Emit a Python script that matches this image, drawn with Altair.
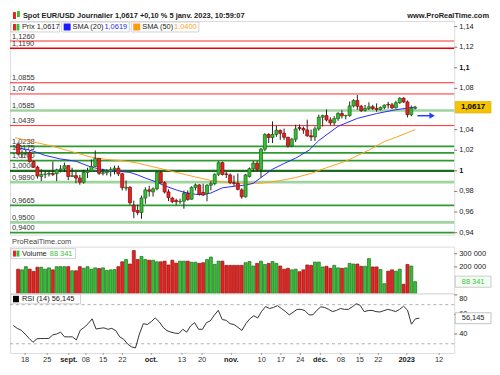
import altair as alt
import numpy as np
import pandas as pd

FONT = "Liberation Sans"

# ---------------- data ----------------
opens = [1.0257, 1.0163, 1.0172, 1.0177, 1.0090, 1.0036, 0.9945, 0.9966, 0.9968, 0.9974,
         0.9972, 1.0008, 1.0018, 1.0050, 0.9945, 0.9953, 0.9930, 0.9890, 0.9985, 0.9998,
         1.0042, 1.0120, 0.9976, 0.9980, 0.9995, 1.0012, 1.0025, 0.9971, 0.9832, 0.9840,
         0.9665, 0.9615, 0.9595, 0.9736, 0.9815, 0.9795, 0.9825, 0.9985, 0.9884, 0.9795,
         0.9735, 0.9712, 0.9700, 0.9705, 0.9780, 0.9725, 0.9839, 0.9863, 0.9790, 0.9780,
         0.9860, 0.9876, 0.9966, 1.0079, 0.9970, 0.9960, 0.9885, 0.9878, 0.9815, 0.9748,
         0.9945, 1.0020, 1.0075, 1.0014, 1.0210, 1.0352, 1.0323, 1.0353, 1.0393, 1.0365,
         1.0325, 1.0242, 1.0306, 1.0420, 1.0411, 1.0397, 1.0340, 1.0329, 1.0407, 1.0521,
         1.0536, 1.0494, 1.0466, 1.0507, 1.0556, 1.0534, 1.0537, 1.0630, 1.0682, 1.0627,
         1.0585, 1.0605, 1.0622, 1.0605, 1.0596, 1.0615, 1.0645, 1.0640, 1.0611, 1.0661,
         1.0705, 1.0668, 1.0545, 1.0607]
highs = [1.0275, 1.0200, 1.0202, 1.0195, 1.0100, 1.0050, 1.0015, 0.9999, 1.0000, 1.0090,
         1.0020, 1.0055, 1.0080, 1.0055, 1.0030, 0.9990, 0.9960, 1.0010, 1.0030, 1.0110,
         1.0198, 1.0125, 1.0020, 1.0015, 1.0035, 1.0050, 1.0050, 0.9980, 0.9906, 0.9850,
         0.9710, 0.9670, 0.9760, 0.9840, 0.9855, 0.9840, 0.9999, 0.9999, 0.9900, 0.9820,
         0.9748, 0.9730, 0.9730, 0.9808, 0.9810, 0.9850, 0.9876, 0.9870, 0.9875, 0.9870,
         0.9900, 0.9975, 1.0093, 1.0089, 0.9990, 0.9975, 0.9954, 0.9975, 0.9830, 0.9970,
         1.0033, 1.0095, 1.0095, 1.0222, 1.0365, 1.0365, 1.0480, 1.0440, 1.0400, 1.0410,
         1.0330, 1.0320, 1.0448, 1.0450, 1.0430, 1.0497, 1.0400, 1.0430, 1.0545, 1.0545,
         1.0595, 1.0520, 1.0530, 1.0570, 1.0588, 1.0545, 1.0673, 1.0695, 1.0736, 1.0640,
         1.0640, 1.0665, 1.0640, 1.0655, 1.0625, 1.0645, 1.0670, 1.0660, 1.0680, 1.0714,
         1.0713, 1.0683, 1.0633, 1.0630]
lows = [1.0150, 1.0122, 1.0150, 1.0080, 1.0030, 0.9925, 0.9900, 0.9928, 0.9945, 0.9950,
        0.9900, 0.9985, 0.9990, 0.9910, 0.9940, 0.9880, 0.9865, 0.9875, 0.9930, 0.9990,
        1.0040, 0.9960, 0.9955, 0.9955, 0.9945, 0.9965, 0.9950, 0.9810, 0.9807, 0.9670,
        0.9540, 0.9570, 0.9535, 0.9680, 0.9750, 0.9750, 0.9810, 0.9875, 0.9780, 0.9705,
        0.9685, 0.9670, 0.9680, 0.9632, 0.9710, 0.9720, 0.9810, 0.9760, 0.9760, 0.9705,
        0.9810, 0.9860, 0.9950, 0.9955, 0.9930, 0.9870, 0.9850, 0.9810, 0.9730, 0.9740,
        0.9935, 0.9995, 1.0000, 0.9935, 1.0190, 1.0270, 1.0270, 1.0330, 1.0300, 1.0300,
        1.0225, 1.0230, 1.0280, 1.0390, 1.0360, 1.0330, 1.0290, 1.0290, 1.0390, 1.0430,
        1.0480, 1.0443, 1.0440, 1.0485, 1.0508, 1.0500, 1.0525, 1.0615, 1.0593, 1.0570,
        1.0575, 1.0590, 1.0590, 1.0573, 1.0585, 1.0598, 1.0605, 1.0600, 1.0605, 1.0650,
        1.0660, 1.0519, 1.0530, 1.0595]
closes = [1.0163, 1.0172, 1.0177, 1.0090, 1.0036, 0.9950, 0.9966, 0.9968, 0.9974, 0.9965,
          1.0008, 1.0018, 1.0050, 0.9945, 0.9953, 0.9930, 0.9890, 0.9985, 0.9998, 1.0042,
          1.0120, 0.9976, 0.9980, 0.9995, 1.0012, 1.0025, 0.9971, 0.9837, 0.9840, 0.9690,
          0.9607, 0.9595, 0.9736, 0.9815, 0.9802, 0.9825, 0.9985, 0.9884, 0.9795, 0.9741,
          0.9701, 0.9700, 0.9703, 0.9780, 0.9721, 0.9839, 0.9863, 0.9773, 0.9765, 0.9860,
          0.9876, 0.9966, 1.0079, 0.9965, 0.9965, 0.9885, 0.9878, 0.9820, 0.9748, 0.9960,
          1.0020, 1.0075, 1.0014, 1.0210, 1.0352, 1.0323, 1.0353, 1.0393, 1.0365, 1.0325,
          1.0242, 1.0306, 1.0406, 1.0411, 1.0397, 1.0340, 1.0329, 1.0407, 1.0521, 1.0536,
          1.0494, 1.0466, 1.0507, 1.0556, 1.0534, 1.0537, 1.0630, 1.0682, 1.0627, 1.0585,
          1.0605, 1.0622, 1.0605, 1.0596, 1.0615, 1.0637, 1.0640, 1.0611, 1.0661, 1.0705,
          1.0668, 1.0545, 1.0607, 1.0617]
volumes = [183000, 178000, 202000, 183000, 166000, 198000, 198000, 183000, 193000, 178000,
           202000, 202000, 202000, 202000, 171000, 171000, 202000, 190000, 202000, 183000,
           193000, 188000, 193000, 173000, 178000, 180000, 202000, 239000, 256000, 222000,
           324000, 256000, 280000, 256000, 251000, 251000, 239000, 239000, 244000, 215000,
           251000, 229000, 244000, 244000, 244000, 236000, 236000, 227000, 232000, 256000,
           275000, 220000, 244000, 244000, 212000, 212000, 212000, 212000, 212000, 232000,
           241000, 207000, 227000, 244000, 219000, 227000, 241000, 227000, 207000, 183000,
           190000, 178000, 183000, 164000, 178000, 215000, 212000, 237000, 237000, 200000,
           205000, 190000, 212000, 193000, 190000, 193000, 227000, 222000, 222000, 205000,
           205000, 263000, 200000, 200000, 181000, 73000, 168000, 178000, 168000, 183000,
           69000, 219000, 207000, 88341]
rsi_vals = [48.7, 45.8, 43.9, 40.0, 35.6, 31.5, 35.1, 35.4, 35.4, 35.4,
            39.0, 40.0, 41.9, 37.1, 37.1, 37.1, 33.9, 43.9, 46.8, 50.6,
            55.5, 45.1, 45.8, 46.3, 44.8, 45.8, 43.4, 37.1, 34.6, 29.7,
            26.9, 25.7, 40.0, 50.6, 49.7, 52.6, 56.4, 52.6, 46.8, 43.4,
            41.9, 40.9, 40.5, 44.8, 41.9, 48.4, 51.6, 44.8, 44.8, 51.6,
            53.5, 59.3, 64.2, 54.8, 54.0, 50.6, 49.7, 46.8, 43.6, 50.6,
            55.5, 58.7, 56.4, 63.2, 68.1, 66.1, 67.1, 69.0, 66.1, 63.2,
            59.6, 62.3, 65.2, 65.2, 63.9, 59.6, 59.6, 64.2, 67.8, 67.1,
            65.2, 62.9, 64.2, 66.1, 65.2, 65.2, 67.8, 71.0, 69.3, 62.9,
            63.9, 64.2, 62.9, 62.5, 63.9, 65.2, 64.2, 62.9, 65.2, 68.4,
            64.5, 50.0, 55.5, 56.145]

sma20_idx = [-0.8, 2, 4, 7, 11, 15, 19, 23, 26, 29, 31, 33, 36, 38, 41, 43, 46, 48, 50,
             53, 56, 59, 61, 63, 66, 69, 72, 75.5, 78, 83, 88, 93, 98, 103]
sma20_val = [1.0225, 1.0210, 1.0190, 1.0150, 1.0115, 1.0093, 1.0035, 1.0005, 0.9995, 0.9985,
             0.9960, 0.9930, 0.9889, 0.9855, 0.9815, 0.9792, 0.9772, 0.9768, 0.9785,
             0.9835, 0.9850, 0.9862, 0.9878, 0.9935, 1.0016, 1.0071, 1.0123, 1.0201, 1.0294,
             1.0432, 1.0509, 1.0556, 1.0593, 1.0619]
sma50_idx = [-0.8, 4, 9, 14, 19, 23, 27, 31, 36, 41, 46, 50, 54, 58, 63, 68, 72, 76, 80,
             85, 91, 95, 98, 103]
sma50_val = [1.0322, 1.0280, 1.0238, 1.0185, 1.0132, 1.0110, 1.0099, 1.0075, 1.0030, 0.9985,
             0.9940, 0.9907, 0.9888, 0.9880, 0.9880, 0.9905, 0.9935, 0.9975, 1.0030,
             1.0093, 1.0201, 1.0284, 1.0325, 1.0400]

levels = [1.1260, 1.1190, 1.0855, 1.0746, 1.0585, 1.0439, 1.0238, 1.0175, 1.0100,
          1.0000, 0.9890, 0.9665, 0.9500, 0.9400]
level_kinds = ["res", "res_major", "res", "res", "sup_light", "res", "sup", "sup", "sup",
               "sup_major", "sup_light", "sup", "sup_light", "sup"]

tick_text = ["18", "25", "sept.", "08", "15", "22", "oct.", "13", "20", "nov.",
             "10", "17", "24", "déc.", "08", "15", "22", "2023", "12"]
tick_pos = [3.0, 8.6, 14.1, 18.4, 22.8, 27.7, 35.0, 42.8, 47.9, 55.3,
            63.0, 67.9, 72.8, 77.9, 83.1, 87.9, 92.6, 99.8, 108.0]
tick_bold = [False, False, True, False, False, False, True, False, False, True,
             False, False, False, True, False, False, False, True, False]

price_ticks = [0.94, 0.96, 0.98, 1.0, 1.02, 1.04, 1.08, 1.1, 1.12, 1.14]
price_tick_labels = ["0,94", "0,96", "0,98", "1", "1,02", "1,04", "1,08", "1,1", "1,12", "1,14"]
price_tick_bold = [False, False, False, True, False, False, False, True, False, False]
vol_ticks = [200000, 300000]
rsi_ticks = [40, 60]
rsi_top_tick = 80
rsi_bands = [70, 30]

last_price = 1.0617
sma20_last = 1.0619
sma50_last = 1.0400
last_volume = 88341
last_rsi = 56.145
change_text = "+0,10 %"
date_text = "5 janv. 2023, 10:59:07"
arrow_from, arrow_to, arrow_price = 103.6, 107.4, 1.0535

# ---------------- layout / style ----------------
W = 447
H_HEAD, H_PRICE, H_STRIP, H_VOL, H_RSI = 12, 215, 12, 47, 60
FS = 7.5
UP_FILL, DN_FILL = "#36bf36", "#e8231f"
UP_EDGE, DN_EDGE = "#1d6f1d", "#8e1010"
VUP_FILL, VDN_FILL = "#45cf45", "#e06262"
VUP_EDGE, VDN_EDGE = "#1e8a1e", "#a32a2a"
BLUE, ORANGE = "#2a2aff", "#ffa020"
R_DOM = [20.6, 81.6]


def fr(v, d=4):
    return f"{v:.{d}f}".replace(".", ",")


df = pd.DataFrame({"i": np.arange(len(closes)), "open": opens, "high": highs,
                   "low": lows, "close": closes, "vol": volumes, "rsi": rsi_vals})
df["dir"] = np.where(df["close"] >= df["open"], "up", "down")
lv = pd.DataFrame({"p": levels, "kind": level_kinds})
lv["lab"] = [fr(v) for v in levels]
s20 = pd.DataFrame({"i": sma20_idx, "v": sma20_val})
s50 = pd.DataFrame({"i": sma50_idx, "v": sma50_val})
ticks = pd.DataFrame({"pos": tick_pos, "lab": tick_text, "bold": tick_bold})
pticks = pd.DataFrame({"v": price_ticks, "lab": price_tick_labels, "bold": price_tick_bold})
vticks = pd.DataFrame({"v": vol_ticks, "lab": [f"{v:,}".replace(",", " ") for v in vol_ticks]})
rticks = pd.DataFrame({"v": rsi_ticks, "lab": [str(v) for v in rsi_ticks]})
bands = pd.DataFrame({"v": rsi_bands})
ONE = pd.DataFrame({"k": [0]})

xs = alt.Scale(domain=[-0.83, 111.85], nice=False, zero=False)
ps = alt.Scale(domain=[0.938, 1.1454], nice=False, zero=False)
vsc = alt.Scale(domain=[0, 354000], nice=False, zero=False)
rsc = alt.Scale(domain=R_DOM, nice=False, zero=False)
X = alt.X("i:Q", scale=xs, axis=None)


def PY(field):
    return alt.Y(field, scale=ps, axis=None)


def RY(field):
    return alt.Y(field, scale=rsc, axis=None)


def prect(x0, x1, y0, y1, fill, stroke=None, sw=0.8):
    kw = dict(fill=fill)
    if stroke:
        kw.update(stroke=stroke, strokeWidth=sw)
    else:
        kw.update(strokeWidth=0)
    return alt.Chart(ONE).mark_rect(**kw).encode(
        x=alt.value(x0), x2=alt.value(x1), y=alt.value(y0), y2=alt.value(y1))


def ptext(x, y, txt, color="#222", weight="normal", align="left", size=FS):
    return alt.Chart(ONE).mark_text(text=txt, font=FONT, fontSize=size, color=color,
                                    fontWeight=weight, align=align, baseline="middle").encode(
        x=alt.value(x), y=alt.value(y))


def right_axis(tdf, scale, bold_col=False):
    """Right-hand axis drawn as small tick rules and labels."""
    tks = alt.Chart(tdf).mark_rule(color="#777", strokeWidth=1).encode(
        x=alt.value(W), x2=alt.value(W + 3), y=alt.Y("v:Q", scale=scale, axis=None))
    layers = [tks]
    if bold_col:
        layers.append(alt.Chart(tdf).transform_filter("!datum.bold").mark_text(
            font=FONT, fontSize=FS, color="#222", align="left", baseline="middle").encode(
            x=alt.value(W + 5), y=alt.Y("v:Q", scale=scale, axis=None), text="lab:N"))
        layers.append(alt.Chart(tdf).transform_filter("datum.bold").mark_text(
            font=FONT, fontSize=FS, color="#111", fontWeight="bold", align="left",
            baseline="middle").encode(
            x=alt.value(W + 5), y=alt.Y("v:Q", scale=scale, axis=None), text="lab:N"))
    else:
        layers.append(alt.Chart(tdf).mark_text(
            font=FONT, fontSize=FS, color="#222", align="left", baseline="middle").encode(
            x=alt.value(W + 5), y=alt.Y("v:Q", scale=scale, axis=None), text="lab:N"))
    return layers


# ---------------- header ----------------
header = alt.layer(
    prect(3, 6, 3, 10, DN_FILL),
    prect(7, 10, 2, 8, UP_FILL),
    ptext(13, 6.5, f"Spot EUR/USD Journalier {fr(last_price)} {change_text} {date_text}",
          weight="bold"),
    ptext(W + 35, 6.5, "www.ProRealTime.com", weight="bold", align="right"),
).properties(width=W, height=H_HEAD, view=alt.ViewBackground(strokeOpacity=0))

# ---------------- price panel ----------------
kind_dom = ["res", "res_major", "sup", "sup_major", "sup_light"]
lev_rules = alt.Chart(lv).mark_rule().encode(
    y=PY("p:Q"),
    color=alt.Color("kind:N", scale=alt.Scale(domain=kind_dom,
                    range=["#ff2a2a", "#ee0000", "#2f9a2f", "#1d6b1d", "#9fd39f"]), legend=None),
    strokeWidth=alt.StrokeWidth("kind:N", scale=alt.Scale(domain=kind_dom,
                                range=[1, 2.6, 1.2, 2.6, 2]), legend=None),
)
lev_labels = alt.Chart(lv).mark_text(font=FONT, fontSize=FS, color="#333", align="left",
                                     baseline="middle", dy=-4.5).encode(
    x=alt.value(2), y=PY("p:Q"), text="lab:N")
sma50_line = alt.Chart(s50).mark_line(color=ORANGE, strokeWidth=1, clip=True).encode(
    x=X, y=PY("v:Q"))
sma20_line = alt.Chart(s20).mark_line(color=BLUE, strokeWidth=1, clip=True).encode(
    x=X, y=PY("v:Q"))
wicks = alt.Chart(df).mark_rule(color="#222", strokeWidth=1).encode(
    x=X, y=PY("low:Q"), y2="high:Q")
bodies = alt.Chart(df).mark_bar(width=3, strokeWidth=0.8).encode(
    x=X, y=PY("open:Q"), y2="close:Q",
    fill=alt.Fill("dir:N", scale=alt.Scale(domain=["up", "down"], range=[UP_FILL, DN_FILL]),
                  legend=None),
    stroke=alt.Stroke("dir:N", scale=alt.Scale(domain=["up", "down"], range=[UP_EDGE, DN_EDGE]),
                      legend=None))
arrow_df = pd.DataFrame({"a": [arrow_from], "b": [arrow_to], "p": [arrow_price]})
arrow_line = alt.Chart(arrow_df).mark_rule(color="#1f3fff", strokeWidth=1.5).encode(
    x=alt.X("a:Q", scale=xs, axis=None), x2="b:Q", y=PY("p:Q"))
arrow_head = alt.Chart(arrow_df).mark_point(shape="triangle-right", filled=True, size=40,
                                            color="#1f3fff", opacity=1).encode(
    x=alt.X("b:Q", scale=xs, axis=None), y=PY("p:Q"))
tag_df = pd.DataFrame({"p": [last_price], "hi": [last_price + 0.0056],
                       "lo": [last_price - 0.0056], "lab": [fr(last_price)]})
price_tag = alt.Chart(tag_df).mark_rect(fill="#f5c400", stroke="#d9a800", strokeWidth=0.6).encode(
    x=alt.value(W + 1), x2=alt.value(W + 37), y=PY("hi:Q"), y2="lo:Q")
price_tag_t = alt.Chart(tag_df).mark_text(font=FONT, fontSize=FS + 0.5, fontWeight="bold",
                                          color="#000", align="center", baseline="middle").encode(
    x=alt.value(W + 19), y=PY("p:Q"), text="lab:N")

legend_price = [
    prect(1, 50, 1, 11, "#ffffff", "#c8c8c8"),
    prect(3, 6, 3, 9.5, DN_FILL), prect(6.5, 9.5, 3, 9.5, UP_FILL),
    ptext(12, 6, f"Prix {fr(last_price)}"),
    prect(52, 120, 1, 11, "#ffffff", "#c8c8c8"),
    prect(54, 61, 2.5, 9.5, "#1a1aff"),
    ptext(63, 6, "SMA (20)"),
    ptext(95, 6, fr(sma20_last), color=BLUE),
    prect(122, 190, 1, 11, "#ffffff", "#c8c8c8"),
    prect(124, 131, 2.5, 9.5, "#ff9a10"),
    ptext(133, 6, "SMA (50)"),
    ptext(165, 6, fr(sma50_last), color=ORANGE),
]

price = alt.layer(lev_rules, lev_labels, sma50_line, sma20_line, wicks, bodies,
                  arrow_line, arrow_head, *right_axis(pticks, ps, bold_col=True),
                  price_tag, price_tag_t, *legend_price
                  ).properties(width=W, height=H_PRICE)

# ---------------- strip ----------------
strip = alt.layer(ptext(2, 7, "ProRealTime.com", color="#444")).properties(
    width=W, height=H_STRIP, view=alt.ViewBackground(strokeOpacity=0))

# ---------------- volume ----------------
VY = alt.Y("vol:Q", scale=vsc, axis=None)
vbars = alt.Chart(df).mark_bar(width=3, strokeWidth=0.7).encode(
    x=X, y=VY,
    fill=alt.Fill("dir:N", scale=alt.Scale(domain=["up", "down"], range=[VUP_FILL, VDN_FILL]),
                  legend=None),
    stroke=alt.Stroke("dir:N", scale=alt.Scale(domain=["up", "down"], range=[VUP_EDGE, VDN_EDGE]),
                      legend=None))
vol_txt = f"{last_volume:,}".replace(",", " ")
vtag_df = pd.DataFrame({"vol": [last_volume], "hi": [last_volume + 42000],
                        "lo": [last_volume - 42000], "lab": [vol_txt]})
vol_tag = alt.Chart(vtag_df).mark_rect(fill="#f2fff2", stroke="#aaaaaa", strokeWidth=0.6).encode(
    x=alt.value(W + 1), x2=alt.value(W + 37), y=alt.Y("hi:Q", scale=vsc, axis=None), y2="lo:Q")
vol_tag_t = alt.Chart(vtag_df).mark_text(font=FONT, fontSize=FS, color="#3cc23c",
                                         align="center", baseline="middle").encode(
    x=alt.value(W + 19), y=VY, text="lab:N")
legend_vol = [
    prect(1, 66, 2, 12, "#ffffff", "#c8c8c8"),
    prect(3, 6, 4, 10, DN_FILL), prect(6.5, 9.5, 4, 10, UP_FILL),
    ptext(12, 7, "Volume"),
    ptext(40, 7, vol_txt, color="#3cc23c"),
]
volume = alt.layer(vbars, *right_axis(vticks, vsc), vol_tag, vol_tag_t, *legend_vol
                   ).properties(width=W, height=H_VOL)

# ---------------- RSI ----------------
band_rules = alt.Chart(bands).mark_rule(color="#9a9a9a", strokeDash=[3, 3], strokeWidth=0.8).encode(
    y=RY("v:Q"))
rsi_line = alt.Chart(df).mark_line(color="#333", strokeWidth=1).encode(
    x=X, y=RY("rsi:Q"))
# the top RSI label (80) sits just under the panel top, as in the reference
y80 = H_RSI * (R_DOM[1] - rsi_top_tick) / (R_DOM[1] - R_DOM[0])
top_tick = prect(W, W + 3, y80 - 0.5, y80 + 0.5, "#777777")
top_label = ptext(W + 5, y80 + 4, str(rsi_top_tick))
rtag_df = pd.DataFrame({"rsi": [last_rsi], "hi": [last_rsi + 5.6], "lo": [last_rsi - 5.6],
                        "lab": [fr(last_rsi, 3)]})
rsi_tag = alt.Chart(rtag_df).mark_rect(fill="#ffffff", stroke="#999999", strokeWidth=0.6).encode(
    x=alt.value(W + 1), x2=alt.value(W + 37), y=RY("hi:Q"), y2="lo:Q")
rsi_tag_t = alt.Chart(rtag_df).mark_text(font=FONT, fontSize=FS, color="#222",
                                         align="center", baseline="middle").encode(
    x=alt.value(W + 19), y=RY("rsi:Q"), text="lab:N")
legend_rsi = [
    prect(1, 71, 1, 10.5, "#ffffff", "#c8c8c8"),
    prect(3, 9, 2.5, 9, "#000000"),
    ptext(12, 6, f"RSI (14) {fr(last_rsi, 3)}"),
]
xlab_norm = alt.Chart(ticks).transform_filter("!datum.bold").mark_text(
    font=FONT, fontSize=FS, color="#333", baseline="middle").encode(
    x=alt.X("pos:Q", scale=xs, axis=None), y=alt.value(H_RSI + 7), text="lab:N")
xlab_bold = alt.Chart(ticks).transform_filter("datum.bold").mark_text(
    font=FONT, fontSize=FS, color="#222", fontWeight="bold", baseline="middle").encode(
    x=alt.X("pos:Q", scale=xs, axis=None), y=alt.value(H_RSI + 7), text="lab:N")
xtick_marks = alt.Chart(ticks).mark_rule(color="#999", strokeWidth=1).encode(
    x=alt.X("pos:Q", scale=xs, axis=None), y=alt.value(H_RSI), y2=alt.value(H_RSI + 2))

rsi = alt.layer(band_rules, rsi_line, *right_axis(rticks, rsc), top_tick, top_label,
                rsi_tag, rsi_tag_t, *legend_rsi,
                xtick_marks, xlab_norm, xlab_bold).properties(width=W, height=H_RSI)

chart = alt.vconcat(header, price, strip, volume, rsi, spacing=0, bounds="flush").properties(
    padding=0, background="#ffffff"
).configure_view(stroke="#bdbdbd", strokeWidth=1).configure(font=FONT)

chart.save("out.html", embed_options={"renderer": "svg", "actions": False})
